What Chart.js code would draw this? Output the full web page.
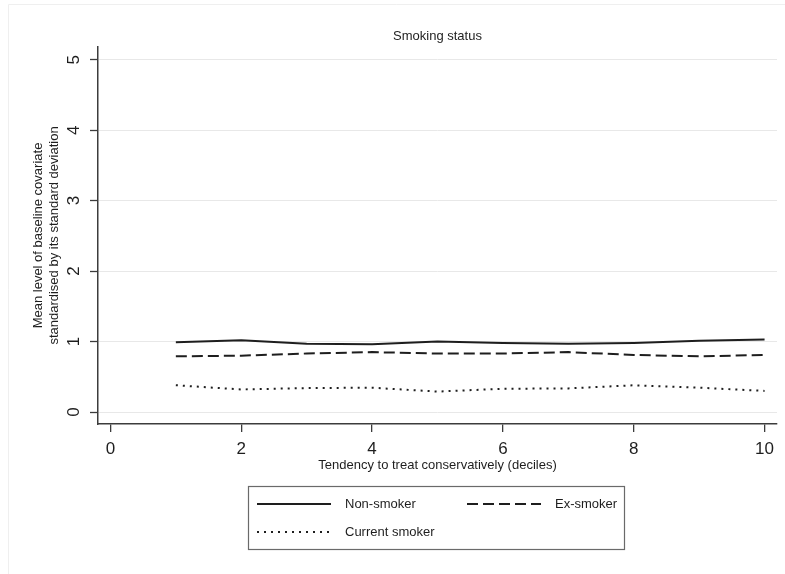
<!DOCTYPE html>
<html>
<head>
<meta charset="utf-8">
<script src="https://cdn.jsdelivr.net/npm/chart.js@4"></script>
<style>
  html, body { margin: 0; padding: 0; background: #ffffff; }
  #wrap { width: 785px; height: 574px; }
</style>
</head>
<body>
<div id="wrap"><canvas id="c" width="785" height="574"></canvas></div>
<script>
// Deciles of the tendency to treat conservatively
const deciles = [1, 2, 3, 4, 5, 6, 7, 8, 9, 10];

// Mean standardised level of each smoking-status indicator per decile
const nonSmoker     = [0.99, 1.02, 0.97, 0.96, 1.00, 0.98, 0.97, 0.98, 1.01, 1.03];
const exSmoker      = [0.79, 0.80, 0.83, 0.85, 0.83, 0.83, 0.85, 0.81, 0.79, 0.81];
const currentSmoker = [0.38, 0.32, 0.34, 0.345, 0.29, 0.33, 0.335, 0.38, 0.345, 0.30];

const seriesNames = ['Non-smoker', 'Ex-smoker', 'Current smoker'];
const xTickValues = [0, 2, 4, 6, 8, 10];
const yTickValues = [0, 1, 2, 3, 4, 5];

const chartTitle = 'Smoking status';
const xTitle = 'Tendency to treat conservatively (deciles)';
const yTitleLines = ['Mean level of baseline covariate', 'standardised by its standard deviation'];

const FONT = '"Liberation Sans", Arial, sans-serif';
const INK = '#1e1e1e';
const AXIS = '#3c3c3c';

function points(values) {
  return deciles.map((d, i) => ({ x: d, y: values[i] }));
}

// Title above the plot, rotated y tick labels, legend box and faint frame
const decorations = {
  id: 'decorations',
  beforeDraw(chart) {
    const ctx = chart.ctx;
    ctx.save();
    ctx.strokeStyle = '#efefef';
    ctx.lineWidth = 1;
    ctx.beginPath();
    ctx.moveTo(8.5, 574); ctx.lineTo(8.5, 4.5); ctx.lineTo(785, 4.5);
    ctx.stroke();
    ctx.restore();
  },
  afterDraw(chart) {
    const ctx = chart.ctx;
    const area = chart.chartArea;
    const yScale = chart.scales.y;
    ctx.save();

    // chart title, centred over the plot region
    ctx.fillStyle = INK;
    ctx.font = '13px ' + FONT;
    ctx.textAlign = 'center';
    ctx.textBaseline = 'middle';
    ctx.fillText(chartTitle, (area.left + area.right) / 2, 36.5);

    // vertical y tick labels
    ctx.font = '17px ' + FONT;
    yTickValues.forEach(v => {
      const py = yScale.getPixelForValue(v);
      ctx.save();
      ctx.translate(74, py);
      ctx.rotate(-Math.PI / 2);
      ctx.textAlign = 'center';
      ctx.textBaseline = 'middle';
      ctx.fillText(String(v), 0, 0);
      ctx.restore();
    });

    // legend box
    const box = { left: 248.5, top: 486.5, width: 376, height: 63 };
    ctx.strokeStyle = '#6a6a6a';
    ctx.lineWidth = 1.2;
    ctx.strokeRect(box.left, box.top, box.width, box.height);

    const slots = [
      { x: 257, y: 504 },
      { x: 467, y: 504 },
      { x: 257, y: 532 }
    ];
    ctx.font = '13px ' + FONT;
    ctx.textAlign = 'left';
    ctx.textBaseline = 'middle';
    chart.data.datasets.forEach((ds, i) => {
      const s = slots[i];
      ctx.save();
      ctx.strokeStyle = ds.borderColor;
      ctx.lineWidth = ds.borderWidth;
      ctx.setLineDash(ds.borderDash || []);
      ctx.beginPath();
      ctx.moveTo(s.x, s.y);
      ctx.lineTo(s.x + 74, s.y);
      ctx.stroke();
      ctx.restore();
      ctx.fillStyle = INK;
      ctx.fillText(ds.label, s.x + 88, s.y);
    });

    ctx.restore();
  }
};

new Chart(document.getElementById('c'), {
  type: 'line',
  data: {
    datasets: [
      { label: seriesNames[0], data: points(nonSmoker), borderColor: INK, borderWidth: 2, borderDash: [] },
      { label: seriesNames[1], data: points(exSmoker), borderColor: INK, borderWidth: 2, borderDash: [11, 5] },
      { label: seriesNames[2], data: points(currentSmoker), borderColor: INK, borderWidth: 2, borderDash: [2, 5] }
    ]
  },
  options: {
    responsive: false,
    animation: false,
    devicePixelRatio: 1,
    elements: { point: { radius: 0 }, line: { tension: 0, fill: false } },
    layout: { padding: { top: 47, left: 0, right: 8, bottom: 0 } },
    plugins: {
      legend: { display: false },
      title: { display: false },
      tooltip: { enabled: false }
    },
    scales: {
      x: {
        type: 'linear',
        min: -0.19,
        max: 10.19,
        afterBuildTicks(scale) { scale.ticks = xTickValues.map(v => ({ value: v })); },
        afterFit(scale) { scale.height = 150; },
        grid: { drawOnChartArea: false, drawTicks: true, tickLength: 8, color: AXIS, lineWidth: 1.3 },
        border: { display: true, color: AXIS, width: 1.5 },
        ticks: { font: { family: FONT, size: 17 }, color: INK, padding: 7, maxRotation: 0 },
        title: {
          display: true,
          text: xTitle,
          color: INK,
          font: { family: FONT, size: 13 },
          padding: { top: 0, bottom: 101 }
        }
      },
      y: {
        type: 'linear',
        min: -0.17,
        max: 5.18,
        afterBuildTicks(scale) { scale.ticks = yTickValues.map(v => ({ value: v })); },
        afterFit(scale) { scale.width = 98; },
        grid: { drawOnChartArea: true, drawTicks: true, tickLength: 8, color: '#e8e8e8', tickColor: AXIS, lineWidth: 1, tickWidth: 1.3 },
        border: { display: true, color: AXIS, width: 1.5 },
        ticks: { display: false },
        title: {
          display: true,
          text: yTitleLines,
          color: INK,
          font: { family: FONT, size: 13 },
          padding: { top: 31, bottom: 0 }
        }
      }
    }
  },
  plugins: [decorations]
});
</script>
</body>
</html>
